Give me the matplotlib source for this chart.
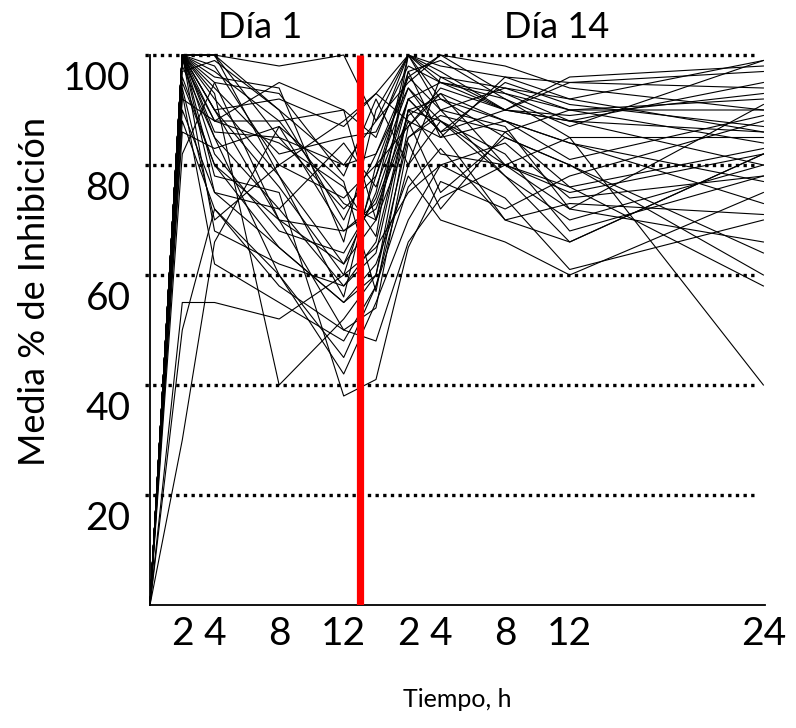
import matplotlib.pyplot as plt
from matplotlib.transforms import ScaledTranslation

plt.rcParams['font.family'] = ['Lato', 'DejaVu Sans']

# sampling times (h); day 14 samples are drawn after an offset of 14 h
times_day1 = [0, 2, 4, 8, 12]
times_day14 = [0, 2, 4, 8, 12, 24]
day14_offset = 14

# % inhibition per sampling time, one value per subject (36 subjects)
d1_0h = [0] * 36
d1_2h = [100, 100, 100, 98, 100, 96, 100, 92, 100, 88, 100, 55, 30, 100, 100, 97, 100, 94,
         100, 100, 90, 100, 99, 100, 86, 100, 100, 100, 50, 100, 95, 100, 82, 100, 100, 93]
d1_4h = [97, 100, 92, 85, 90, 80, 100, 88, 95, 72, 86, 55, 66, 93, 78, 99, 82, 70,
         96, 85, 75, 100, 88, 90, 83, 75, 94, 68, 72, 98, 80, 90, 95, 88, 100, 62]
d1_8h = [88, 98, 78, 72, 92, 65, 85, 95, 70, 60, 85, 52, 87, 40, 75, 90, 68, 80,
         94, 60, 72, 90, 84, 70, 87, 65, 82, 62, 58, 80, 70, 76, 93, 88, 78, 55]
d1_12h = [73, 100, 62, 58, 87, 55, 72, 90, 50, 45, 80, 60, 68, 52, 38, 80, 64, 74,
          66, 42, 84, 70, 76, 62, 77, 55, 85, 58, 50, 88, 68, 60, 78, 90, 56, 48]
d14_0h = [70, 88, 75, 66, 93, 60, 78, 85, 54, 58, 82, 65, 72, 60, 41, 88, 74, 80,
          90, 55, 76, 82, 67, 70, 57, 62, 86, 64, 48, 93, 73, 78, 92, 70, 80, 58]
d14_2h = [92, 100, 100, 90, 88, 85, 97, 100, 84, 80, 94, 75, 88, 90, 65, 95, 92, 87,
          100, 70, 92, 96, 100, 85, 87, 78, 98, 90, 66, 100, 89, 94, 80, 97, 96, 76]
d14_4h = [95, 98, 95, 88, 85, 90, 99, 96, 72, 88, 86, 80, 75, 82, 77, 100, 86, 93,
          97, 80, 86, 90, 92, 89, 94, 70, 95, 92, 74, 90, 93, 88, 96, 85, 100, 83]
d14_8h = [90, 96, 93, 80, 96, 78, 92, 94, 86, 82, 90, 74, 85, 80, 72, 98, 70, 88,
          90, 84, 95, 87, 85, 86, 90, 66, 92, 88, 80, 94, 80, 78, 90, 88, 93, 70]
d14_12h = [88, 92, 90, 75, 95, 70, 85, 90, 76, 68, 96, 61, 80, 72, 78, 94, 66, 84,
           95, 74, 91, 72, 80, 90, 88, 60, 87, 81, 76, 92, 85, 66, 89, 84, 88, 73]
d14_24h = [86, 99, 90, 82, 94, 80, 40, 92, 83, 78, 98, 70, 60, 66, 88, 90, 82, 73,
           97, 78, 87, 91, 64, 84, 80, 75, 99, 89, 58, 86, 85, 82, 93, 77, 95, 71]

day1_cols = [d1_0h, d1_2h, d1_4h, d1_8h, d1_12h]
day14_cols = [d14_0h, d14_2h, d14_4h, d14_8h, d14_12h, d14_24h]

x_all = times_day1 + [t + day14_offset for t in times_day14]

fig = plt.figure(figsize=(7.96, 7.28), dpi=100)
ax = fig.add_axes([150 / 796, 123 / 728, 615 / 796, 550 / 728])

for i in range(len(d1_2h)):
    y = [c[i] for c in day1_cols] + [c[i] for c in day14_cols]
    ax.plot(x_all, y, color='black', lw=0.8, clip_on=False, zorder=2)

# dotted reference lines
for v in [20, 40, 60, 80, 100]:
    ax.plot([-0.3, 37.5], [v, v], color='black', lw=2.4,
            linestyle=(0, (1, 1.3)), clip_on=False, zorder=3)

# separation between day 1 and day 14
ax.plot([13.0, 13.0], [0, 100], color='#ff0000', lw=5.2, zorder=4, solid_capstyle='butt')

ax.set_xlim(0, 38.1)
ax.set_ylim(0, 100)

ax.spines['top'].set_visible(False)
ax.spines['right'].set_visible(False)
ax.spines['left'].set_linewidth(1.3)
ax.spines['bottom'].set_linewidth(1.3)

tick_pos = [2, 4, 8, 12] + [day14_offset + t for t in [2, 4, 8, 12, 24]]
tick_lbl = ['2', '4', '8', '12', '2', '4', '8', '12', '24']
ax.set_xticks(tick_pos)
ax.set_xticklabels(tick_lbl)
ax.set_yticks([20, 40, 60, 80, 100])
ax.tick_params(axis='both', length=0, labelsize=28)
ax.tick_params(axis='x', pad=8)
ax.tick_params(axis='y', pad=14)
for lbl in ax.get_yticklabels():
    lbl.set_transform(lbl.get_transform() + ScaledTranslation(0, -0.2, fig.dpi_scale_trans))

ax.set_xlabel('Tiempo, h', fontsize=18, labelpad=26)
fig.text(35 / 796, 1 - 292 / 728, 'Media % de Inhibición', fontsize=26,
         rotation=90, ha='center', va='center')

ax.text(6.8, 105, 'Día 1', fontsize=26, ha='center', va='center')
ax.text(25.2, 105, 'Día 14', fontsize=26, ha='center', va='center')

fig.savefig('out.png', dpi=100)
